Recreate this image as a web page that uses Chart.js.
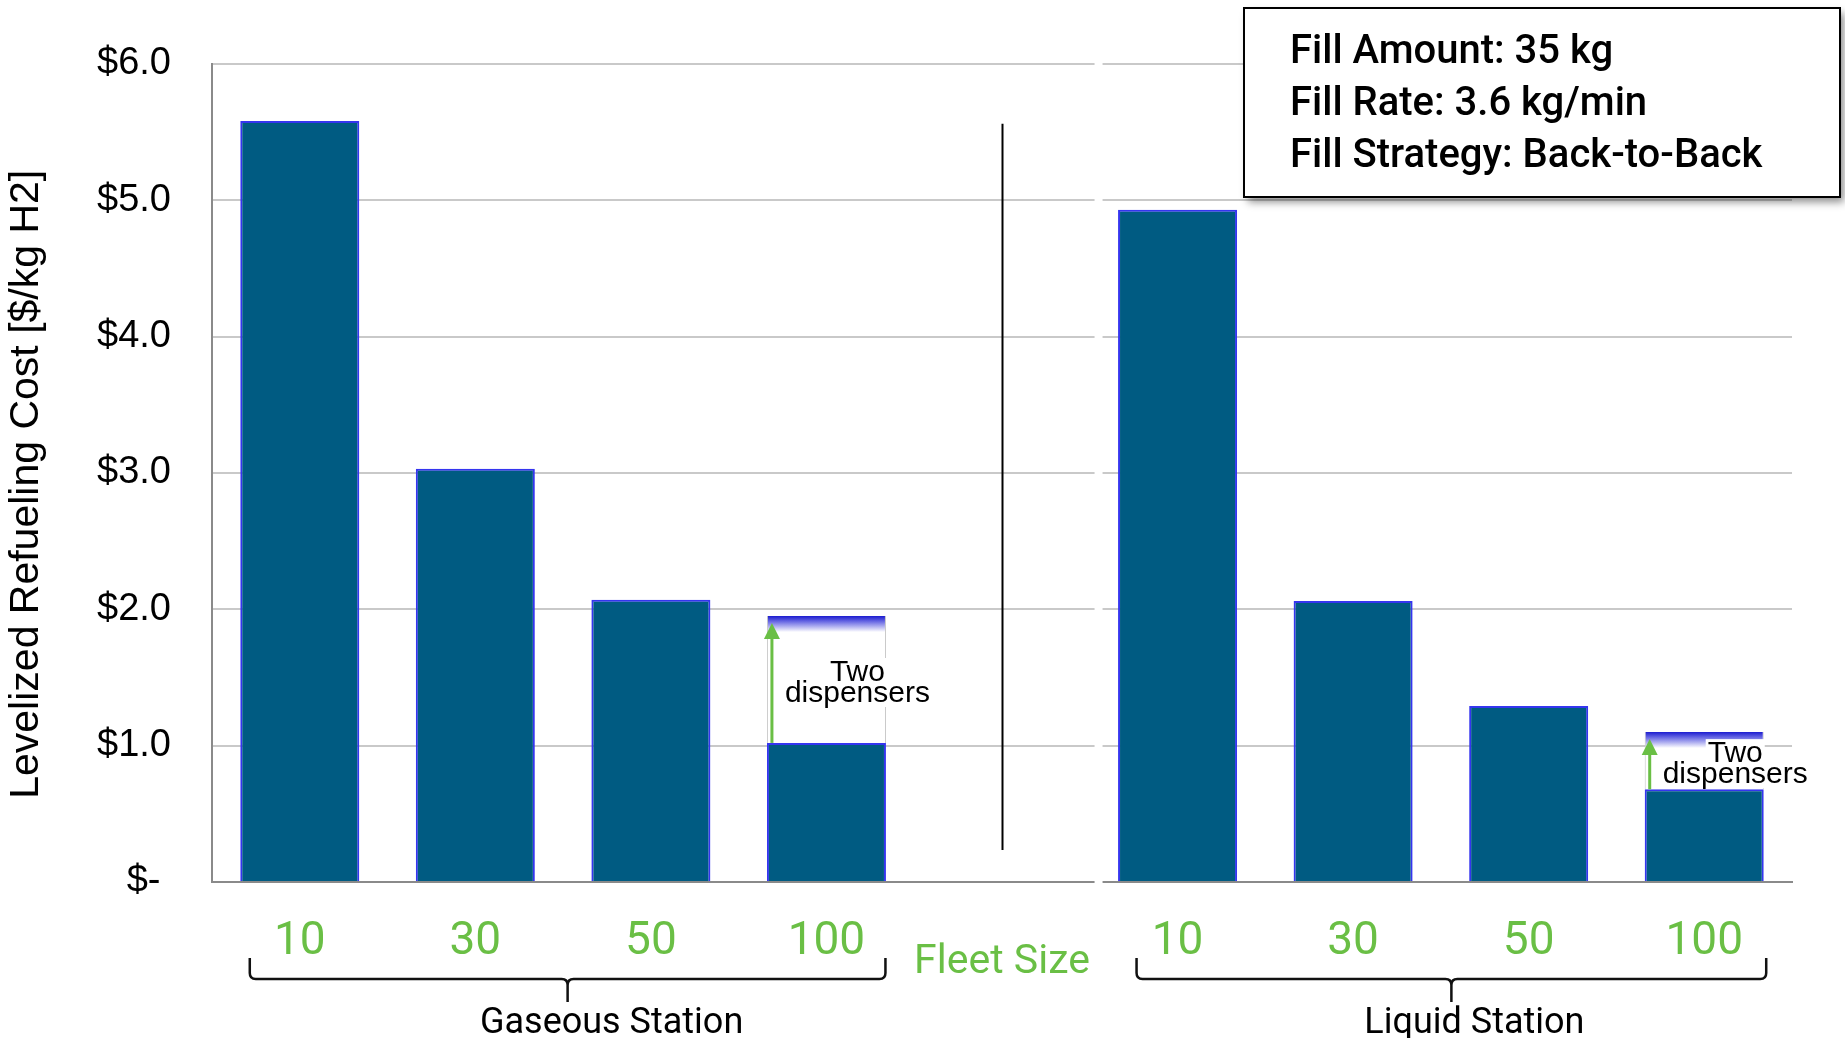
<!DOCTYPE html>
<html>
<head>
<meta charset="utf-8">
<script src="https://cdn.jsdelivr.net/npm/chart.js@4.4.1/dist/chart.umd.min.js"></script>
<style>
  html, body { margin: 0; padding: 0; background: #ffffff; }
  #wrap { width: 1845px; height: 1038px; position: relative; }
</style>
</head>
<body>
<div id="wrap"><canvas id="c" width="1845" height="1038"></canvas></div>
<script>
// Fleet sizes: gaseous station (4), spacer slot, liquid station (4)
const fleetSizes = ['10', '30', '50', '100', '', '10', '30', '50', '100'];
// Levelized refueling cost with one dispenser [$/kg H2]
const oneDispenserCost = [5.58, 3.03, 2.07, 1.02, null, 4.93, 2.06, 1.29, 0.68];
// Additional cost when the station needs two dispensers
const twoDispenserExtra = [null, null, null, 0.93, null, null, null, null, 0.42];
const yTickValues = [0, 1, 2, 3, 4, 5, 6];
const stationNames = ['Gaseous Station', 'Liquid Station'];
const stationRanges = [[0, 3], [5, 8]];
const separatorIndex = 4;
const fleetSizeTitle = 'Fleet Size';
const yTitle = 'Levelized Refueling Cost [$/kg H2]  ';
const annotationLines = ['Two', 'dispensers'];
const infoLines = ['Fill Amount: 35 kg', 'Fill Rate: 3.6 kg/min', 'Fill Strategy: Back-to-Back'];

// Layout of the station braces (pixel offsets from the outer bar centres)
const braceLayout = [
  { left: -50, right: 59, label: 44 },
  { left: -41, right: 62, label: 23 }
];

const GREEN = '#6abf45';
const BAR_FILL = '#005b82';
const BAR_EDGE = '#3535ef';

Chart.defaults.font.family = '"Liberation Sans", Arial, sans-serif';
Chart.defaults.color = '#000000';

function tickLabel(v) {
  return v === 0 ? '$- ' : '$' + v.toFixed(1);
}

function drawBrace(ctx, x0, x1, yTop, yLine, yStem) {
  const xm = (x0 + x1) / 2, r = 6;
  ctx.beginPath();
  ctx.moveTo(x0, yTop);
  ctx.lineTo(x0, yLine - r);
  ctx.quadraticCurveTo(x0, yLine, x0 + r, yLine);
  ctx.lineTo(xm - r, yLine);
  ctx.quadraticCurveTo(xm, yLine, xm, yLine + r);
  ctx.lineTo(xm, yStem);
  ctx.moveTo(xm, yLine + r);
  ctx.quadraticCurveTo(xm, yLine, xm + r, yLine);
  ctx.lineTo(x1 - r, yLine);
  ctx.quadraticCurveTo(x1, yLine, x1, yLine - r);
  ctx.lineTo(x1, yTop);
  ctx.stroke();
}

const decorations = {
  id: 'decorations',
  beforeDatasetsDraw(chart) {
    // small break in the gridlines and axis between the two station panels
    const { ctx, chartArea, scales } = chart;
    const xs = scales.x;
    const step = xs.getPixelForValue(separatorIndex + 1) - xs.getPixelForValue(separatorIndex);
    const gx = xs.getPixelForValue(separatorIndex) + step * 0.55;
    ctx.save();
    ctx.fillStyle = '#ffffff';
    ctx.fillRect(gx - 4, chartArea.top - 4, 8, chartArea.bottom - chartArea.top + 8);
    ctx.restore();
  },
  afterDatasetsDraw(chart) {
    const { ctx, chartArea, scales } = chart;
    const xs = scales.x, ys = scales.y;
    ctx.save();

    // vertical separator between the stations
    const sx = Math.round(xs.getPixelForValue(separatorIndex)) + 0.5;
    ctx.strokeStyle = '#000000';
    ctx.lineWidth = 2;
    ctx.beginPath();
    ctx.moveTo(sx, chartArea.top + 60);
    ctx.lineTo(sx, chartArea.bottom - 32);
    ctx.stroke();

    // "Two dispensers" arrows and notes
    const meta = chart.getDatasetMeta(0);
    twoDispenserExtra.forEach((extra, i) => {
      if (extra == null) return;
      const el = meta.data[i];
      const baseY = ys.getPixelForValue(oneDispenserCost[i]);
      const topY = ys.getPixelForValue(oneDispenserCost[i] + extra);
      const ax = el.x - el.width / 2 + 5;
      const tipY = topY + 7;
      ctx.strokeStyle = GREEN;
      ctx.fillStyle = GREEN;
      ctx.lineWidth = 3;
      ctx.beginPath();
      ctx.moveTo(ax, baseY);
      ctx.lineTo(ax, tipY + 14);
      ctx.stroke();
      ctx.beginPath();
      ctx.moveTo(ax, tipY);
      ctx.lineTo(ax - 8, tipY + 16);
      ctx.lineTo(ax + 8, tipY + 16);
      ctx.closePath();
      ctx.fill();

      ctx.font = '30px "Liberation Sans", Arial, sans-serif';
      ctx.textAlign = 'center';
      ctx.textBaseline = 'alphabetic';
      const cx = el.x + 31;
      const b1 = (baseY + topY) / 2 + 1.5;
      const baselines = [b1, b1 + 21];
      annotationLines.forEach((line, k) => {
        const w = ctx.measureText(line).width;
        ctx.fillStyle = '#ffffff';
        ctx.fillRect(cx - w / 2 - 2, baselines[k] - 23, w + 4, 28);
      });
      ctx.fillStyle = '#000000';
      annotationLines.forEach((line, k) => ctx.fillText(line, cx, baselines[k]));
    });

    // "Fleet Size" caption in the spacer slot
    ctx.fillStyle = GREEN;
    ctx.font = '41px Roboto, sans-serif';
    ctx.textAlign = 'center';
    ctx.textBaseline = 'alphabetic';
    ctx.fillText(fleetSizeTitle, xs.getPixelForValue(separatorIndex), 973);

    // station braces and names
    ctx.strokeStyle = '#111111';
    ctx.lineWidth = 2.5;
    ctx.fillStyle = '#000000';
    ctx.font = '36px Roboto, sans-serif';
    stationRanges.forEach(([a, b], g) => {
      const lay = braceLayout[g];
      const x0 = xs.getPixelForValue(a) + lay.left;
      const x1 = xs.getPixelForValue(b) + lay.right;
      drawBrace(ctx, x0, x1, 958, 979, 1002);
      ctx.fillText(stationNames[g], (x0 + x1) / 2 + lay.label, 1033);
    });

    ctx.restore();
  },
  afterDraw(chart) {
    // test-conditions box
    const { ctx } = chart;
    const bx = 1244, by = 8, bw = 596, bh = 189;
    ctx.save();
    ctx.shadowColor = 'rgba(0,0,0,0.45)';
    ctx.shadowBlur = 8;
    ctx.shadowOffsetX = 4;
    ctx.shadowOffsetY = 5;
    ctx.fillStyle = '#ffffff';
    ctx.fillRect(bx, by, bw, bh);
    ctx.shadowColor = 'transparent';
    ctx.strokeStyle = '#000000';
    ctx.lineWidth = 2;
    ctx.strokeRect(bx, by, bw, bh);
    ctx.fillStyle = '#000000';
    ctx.font = '500 40px Roboto, sans-serif';
    ctx.textAlign = 'left';
    ctx.textBaseline = 'alphabetic';
    infoLines.forEach((line, k) => ctx.fillText(line, bx + 46, by + 55 + k * 52));
    ctx.restore();
  }
};

new Chart(document.getElementById('c'), {
  type: 'bar',
  data: {
    labels: fleetSizes,
    datasets: [
      {
        label: 'One dispenser',
        data: oneDispenserCost,
        backgroundColor: BAR_FILL,
        borderColor: BAR_EDGE,
        borderWidth: 2,
        barPercentage: 0.678,
        categoryPercentage: 1,
        stack: 'cost'
      },
      {
        label: 'Two dispensers',
        data: twoDispenserExtra,
        backgroundColor: (c) => {
          const chart = c.chart, ys = chart.scales.y;
          const i = c.dataIndex;
          if (!ys || c.type !== 'data' || twoDispenserExtra[i] == null) return '#ffffff';
          const top = ys.getPixelForValue(oneDispenserCost[i] + twoDispenserExtra[i]);
          if (!isFinite(top)) return '#ffffff';
          const g = chart.ctx.createLinearGradient(0, top, 0, top + 16);
          g.addColorStop(0, '#1c1cd0');
          g.addColorStop(0.35, '#6b6be4');
          g.addColorStop(1, '#ffffff');
          return g;
        },
        borderColor: '#c6c6c6',
        borderWidth: { top: 0, right: 1, bottom: 0, left: 1 },
        borderSkipped: false,
        barPercentage: 0.678,
        categoryPercentage: 1,
        stack: 'cost'
      }
    ]
  },
  options: {
    responsive: false,
    devicePixelRatio: 1,
    animation: false,
    layout: { padding: { left: 0, right: 53, top: 62, bottom: 0 } },
    plugins: {
      legend: { display: false },
      tooltip: { enabled: false }
    },
    scales: {
      x: {
        stacked: true,
        grid: { display: false, drawTicks: false },
        border: { display: true, color: '#8a8a8a', width: 2 },
        ticks: {
          color: GREEN,
          font: { family: 'Roboto, sans-serif', size: 46 },
          padding: 33,
          maxRotation: 0,
          autoSkip: false
        },
        afterFit(scale) { scale.height = 156; }
      },
      y: {
        stacked: true,
        min: 0,
        max: 6,
        afterBuildTicks(scale) { scale.ticks = yTickValues.map(v => ({ value: v })); },
        grid: { color: '#c9c9c9', lineWidth: 2, drawTicks: false },
        border: { display: true, color: '#8a8a8a', width: 2 },
        ticks: {
          callback: tickLabel,
          font: { size: 38 },
          color: '#000000',
          padding: 41
        },
        title: {
          display: true,
          text: yTitle,
          font: { size: 41 },
          color: '#000000',
          padding: { top: 2, bottom: 0 }
        },
        afterFit(scale) { scale.width = 212; }
      }
    }
  },
  plugins: [decorations]
});
</script>
</body>
</html>
